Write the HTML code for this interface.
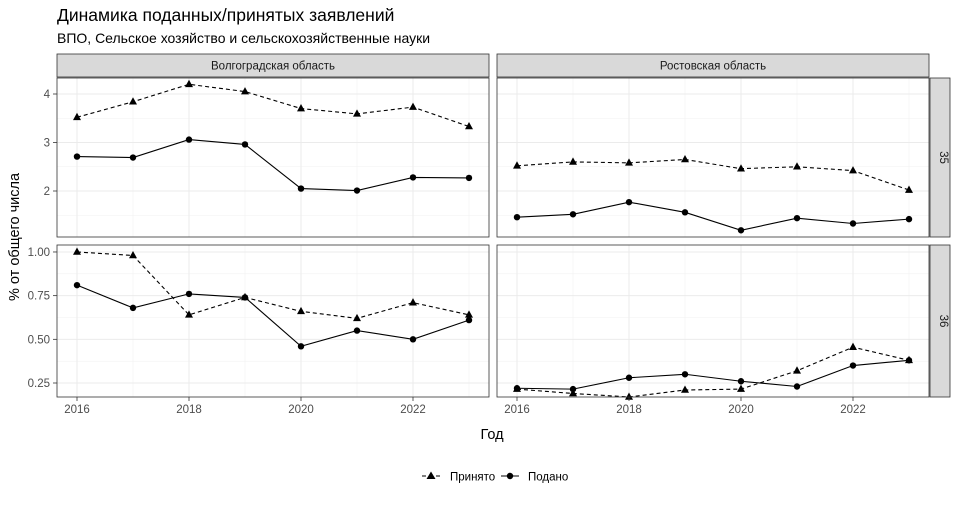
<!DOCTYPE html>
<html><head><meta charset="utf-8">
<style>
body{margin:0;background:#fff;font-family:"Liberation Sans","DejaVu Sans",sans-serif;}
svg text{font-family:"Liberation Sans","DejaVu Sans",sans-serif;}
</style></head>
<body>
<svg id="chart" width="960" height="502" xmlns="http://www.w3.org/2000/svg">
<text x="57" y="21" font-size="17.5" fill="#000">Динамика поданных/принятых заявлений</text>
<text x="57" y="43" font-size="14" fill="#000">ВПО, Сельское хозяйство и сельскохозяйственные науки</text>
<text x="492" y="439" font-size="14.5" text-anchor="middle">Год</text>
<text transform="translate(19,237) rotate(-90)" font-size="14.5" text-anchor="middle">% от общего числа</text>
<g id="panels"></g>
<g>
 <g>
  <line x1="422" y1="476" x2="440" y2="476" stroke="#000" stroke-dasharray="4,3"/>
  <polygon points="431,471.5 435.5,479 426.5,479" fill="#000"/>
  <text x="450" y="480.5" font-size="11.5">Принято</text>
 </g>
 <g>
  <line x1="501" y1="476" x2="519" y2="476" stroke="#000"/>
  <circle cx="510" cy="476" r="3.2" fill="#000"/>
  <text x="528" y="480.5" font-size="11.5">Подано</text>
 </g>
</g>
</svg>
<script>
const years=[2016,2017,2018,2019,2020,2021,2022,2023];
const volg35Accepted=[3.52,3.84,4.2,4.05,3.70,3.59,3.73,3.33];
const volg35Submitted=[2.71,2.69,3.06,2.96,2.05,2.01,2.28,2.27];
const rost35Accepted=[2.52,2.60,2.58,2.65,2.46,2.50,2.42,2.02];
const rost35Submitted=[1.46,1.52,1.77,1.56,1.19,1.44,1.33,1.42];
const volg36Accepted=[1.0,0.98,0.64,0.74,0.66,0.62,0.71,0.64];
const volg36Submitted=[0.81,0.68,0.76,0.74,0.46,0.55,0.50,0.61];
const rost36Accepted=[0.215,0.19,0.17,0.21,0.215,0.32,0.455,0.38];
const rost36Submitted=[0.22,0.215,0.28,0.30,0.26,0.23,0.35,0.38];
const colLabels=["Волгоградская область","Ростовская область"];
const rowLabels=["35","36"];
const xTicks=[2016,2018,2020,2022];
const yTicksTop=[2,3,4];
const yTicksBottom=[0.25,0.5,0.75,1.0];
const yTickLabelsBottom=["0.25","0.50","0.75","1.00"];

const NS="http://www.w3.org/2000/svg";
const root=document.getElementById('panels');
function mk(tag,attrs,parent){const e=document.createElementNS(NS,tag);for(const k in attrs)e.setAttribute(k,attrs[k]);(parent||root).appendChild(e);return e;}
const cols=[{x0:57,x1:489},{x0:497,x1:929}];
const rows=[{y0:78,y1:237,ticks:yTicksTop,labels:yTicksTop.map(String),minor:[1.5,2.5,3.5]},
            {y0:245,y1:397,ticks:yTicksBottom,labels:yTickLabelsBottom,minor:[0.375,0.625,0.875]}];
const yFns=[v=>191-(v-2)*48.5, v=>383-(v-0.25)*174.7];
const xFn=(c,yr)=>cols[c].x0+20+(yr-2016)*56;
const data=[[[volg35Accepted,volg35Submitted],[rost35Accepted,rost35Submitted]],
            [[volg36Accepted,volg36Submitted],[rost36Accepted,rost36Submitted]]];
const names=[["volgograd-35","rostov-35"],["volgograd-36","rostov-36"]];
cols.forEach((c,ci)=>{
  const s=mk('g',{});
  
  
  mk('rect',{x:c.x0,y:54,width:c.x1-c.x0,height:23,fill:'#d9d9d9',stroke:'#333','stroke-width':0.8},s);
  mk('text',{x:(c.x0+c.x1)/2,y:69.5,'font-size':11.5,'text-anchor':'middle',fill:'#1a1a1a'},s).textContent=colLabels[ci];
});
rows.forEach((r,ri)=>{
  const s=mk('g',{});
  
  
  mk('rect',{x:930,y:r.y0,width:20,height:r.y1-r.y0,fill:'#d9d9d9',stroke:'#333','stroke-width':0.8},s);
  const cy=(r.y0+r.y1)/2;
  mk('text',{x:940,y:cy,'font-size':11.5,'text-anchor':'middle',transform:`rotate(90 940 ${cy})`,fill:'#1a1a1a'},s).textContent=rowLabels[ri];
  r.ticks.forEach((t,i)=>{
    const y=yFns[ri](t);
    mk('line',{x1:53,x2:57,y1:y,y2:y,stroke:'#333','stroke-width':0.8});
    const tx=mk('text',{x:50,y:y+4,'font-size':11.5,'text-anchor':'end',fill:'#4d4d4d'});
    tx.textContent=r.labels[i];
    
    
  });
  cols.forEach((c,ci)=>{
    const g=mk('g',{});
    
    
    mk('rect',{x:c.x0,y:r.y0,width:c.x1-c.x0,height:r.y1-r.y0,fill:'#fff'},g);
    r.minor.forEach(t=>{const y=yFns[ri](t);mk('line',{x1:c.x0,x2:c.x1,y1:y,y2:y,stroke:'#f2f2f2','stroke-width':0.6},g);});
    years.forEach(yr=>{const x=xFn(ci,yr);mk('line',{x1:x,x2:x,y1:r.y0,y2:r.y1,stroke:(yr%2?'#f2f2f2':'#ebebeb'),'stroke-width':(yr%2?0.6:1)},g);});
    r.ticks.forEach(t=>{const y=yFns[ri](t);mk('line',{x1:c.x0,x2:c.x1,y1:y,y2:y,stroke:'#ebebeb','stroke-width':1},g);});
    const [acc,sub]=data[ri][ci];
    const pa=acc.map((v,i)=>xFn(ci,years[i])+','+yFns[ri](v)).join(' ');
    const ps=sub.map((v,i)=>xFn(ci,years[i])+','+yFns[ri](v)).join(' ');
    const la=mk('polyline',{points:pa,fill:'none',stroke:'#000','stroke-width':1.1,'stroke-dasharray':'4,3'},g);
    
    
    const ls=mk('polyline',{points:ps,fill:'none',stroke:'#000','stroke-width':1.1},g);
    
    
    acc.forEach((v,i)=>{const x=xFn(ci,years[i]),y=yFns[ri](v);
      const p=mk('polygon',{points:`${x},${y-4.5} ${x+4},${y+2.8} ${x-4},${y+2.8}`,fill:'#000'},g);
      
      });
    sub.forEach((v,i)=>{const x=xFn(ci,years[i]),y=yFns[ri](v);
      const p=mk('circle',{cx:x,cy:y,r:3.2,fill:'#000'},g);
      
      });
    mk('rect',{x:c.x0,y:r.y0,width:c.x1-c.x0,height:r.y1-r.y0,fill:'none',stroke:'#333','stroke-width':0.8},g);
    if(ri===1){
      xTicks.forEach(t=>{const x=xFn(ci,t);
        mk('line',{x1:x,x2:x,y1:397,y2:401,stroke:'#333','stroke-width':0.8});
        const tx=mk('text',{x:x,y:413,'font-size':11.5,'text-anchor':'middle',fill:'#4d4d4d'});
        tx.textContent=String(t);
        
        });
    }
  });
});
</script>
</body></html>
